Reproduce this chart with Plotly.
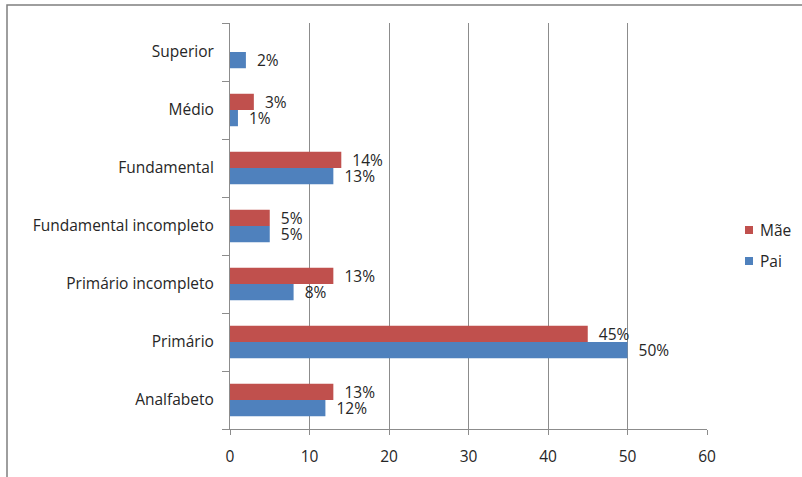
import plotly.graph_objects as go

# Escolaridade dos pais (%)
categorias = ["Analfabeto", "Primário", "Primário incompleto", "Fundamental incompleto",
              "Fundamental", "Médio", "Superior"]
pai = [12, 50, 8, 5, 13, 1, 2]
mae = [13, 45, 13, 5, 14, 3, 0]
ticks_x = [0, 10, 20, 30, 40, 50, 60]

AZUL = "#4F81BD"
VERMELHO = "#C0504D"
FONTE = "'Open Sans', Lato, sans-serif"
TAM = 15.5
COR_TEXTO = "#262626"

# Geometria da área de plotagem em pixels (para converter posições da legenda)
W, H = 802, 477
ML, MR, MT, MB = 230, 95, 23, 48
PW, PH = W - ML - MR, H - MT - MB


def px_x(x):
    return (x - ML) / PW


def px_y(y):
    return (H - MB - y) / PH


def rotulos(valores):
    return ["  %d%%" % v if v else "" for v in valores]


fig = go.Figure()
series = [("Pai", pai, AZUL), ("Mãe", mae, VERMELHO)]
for nome, valores, cor in series:
    fig.add_trace(go.Bar(
        y=categorias, x=valores, name=nome, orientation="h",
        marker=dict(color=cor, line=dict(width=0)),
        text=rotulos(valores), textposition="outside", cliponaxis=False,
        constraintext="none",
        textfont=dict(size=TAM, color=COR_TEXTO, family=FONTE),
    ))

fig.update_layout(
    width=W, height=H,
    margin=dict(l=ML, r=MR, t=MT, b=MB, autoexpand=False),
    paper_bgcolor="white", plot_bgcolor="white",
    barmode="group", bargap=0.44, bargroupgap=0,
    font=dict(family=FONTE, size=TAM, color=COR_TEXTO),
    showlegend=False,
)

fig.update_xaxes(
    range=[0, 60], tickvals=ticks_x, ticktext=[str(t) for t in ticks_x],
    showgrid=True, gridcolor="#8C8C8C", gridwidth=1,
    showline=True, linecolor="#8C8C8C", linewidth=1,
    ticks="outside", ticklen=5, tickcolor="#8C8C8C",
    ticklabelstandoff=8, zeroline=False,
    tickfont=dict(size=TAM, family=FONTE, color=COR_TEXTO),
)
fig.update_yaxes(
    type="category", categoryorder="array", categoryarray=categorias,
    showline=True, linecolor="#8C8C8C", linewidth=1,
    ticks="outside", ticklen=7, tickcolor="#8C8C8C", tickson="boundaries",
    showgrid=False, ticklabelstandoff=12,
    tickfont=dict(size=TAM, family=FONTE, color=COR_TEXTO),
)

# Legenda: Mãe acima, Pai abaixo
for nome, cor, yc in [("Mãe", VERMELHO, 230), ("Pai", AZUL, 261)]:
    fig.add_shape(type="rect", xref="paper", yref="paper",
                  x0=px_x(745), x1=px_x(753), y0=px_y(yc + 4), y1=px_y(yc - 4),
                  fillcolor=cor, line=dict(width=0))
    fig.add_annotation(text=nome, xref="paper", yref="paper",
                       x=px_x(758), y=px_y(yc), xanchor="left", yanchor="middle",
                       showarrow=False,
                       font=dict(size=TAM, family=FONTE, color=COR_TEXTO))

# Moldura externa do gráfico
fig.add_shape(type="rect", xref="paper", yref="paper",
              x0=px_x(7), x1=px_x(W + 20), y0=px_y(H + 20), y1=px_y(5),
              line=dict(color="#7F7F7F", width=1.5), layer="below")

# Título (quase todo acima da borda da página)
fig.add_annotation(
    text="<b>Gráfico 3 – Comparação entre o nível de escolaridade dos pais dos entrevistados</b>",
    xref="paper", yref="paper", x=px_x(20), y=px_y(0),
    xanchor="left", yanchor="bottom", yshift=-2, showarrow=False,
    font=dict(size=20, family=FONTE, color="#000000"),
)

fig.write_html("out.html")
